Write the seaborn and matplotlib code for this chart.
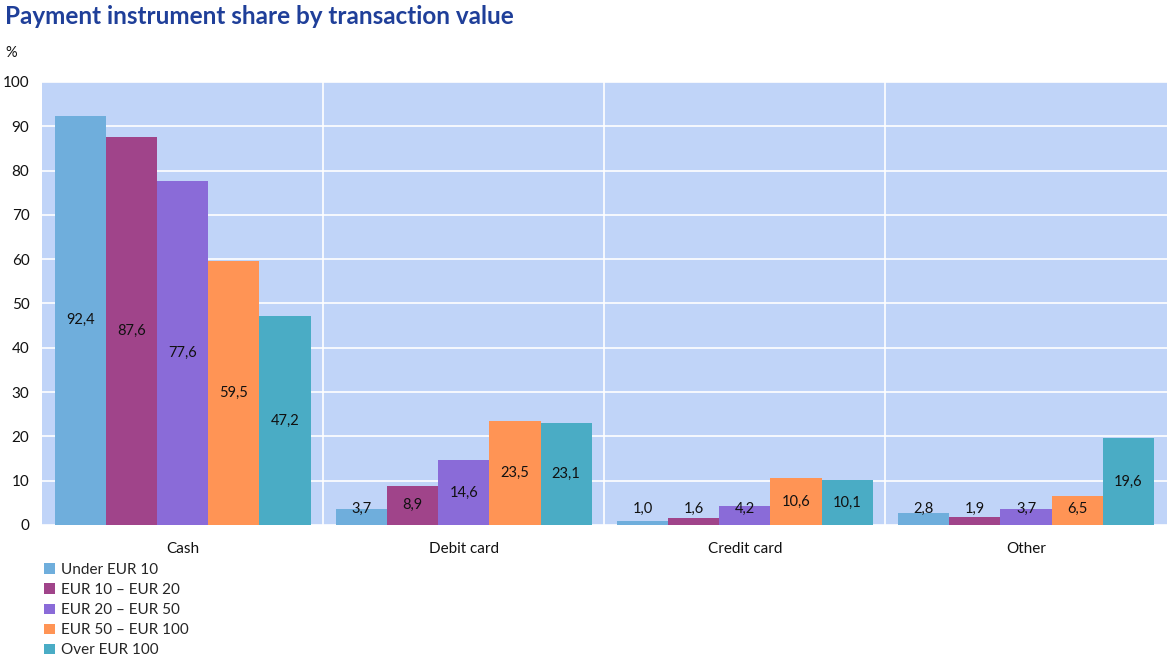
import matplotlib
matplotlib.use("Agg")
import matplotlib.pyplot as plt
import seaborn as sns
import pandas as pd
from matplotlib.patches import Patch

categories = ["Cash", "Debit card", "Credit card", "Other"]
series = ["Under EUR 10", "EUR 10 – EUR 20", "EUR 20 – EUR 50", "EUR 50 – EUR 100", "Over EUR 100"]
under_10 = [92.4, 3.7, 1.0, 2.8]
eur_10_20 = [87.6, 8.9, 1.6, 1.9]
eur_20_50 = [77.6, 14.6, 4.2, 3.7]
eur_50_100 = [59.5, 23.5, 10.6, 6.5]
over_100 = [47.2, 23.1, 10.1, 19.6]
colors = ["#6FAEDC", "#A0448A", "#8A6BD8", "#FF9455", "#4AACC5"]

values = [under_10, eur_10_20, eur_20_50, eur_50_100, over_100]
rows = []
for s, vals in zip(series, values):
    for c, v in zip(categories, vals):
        rows.append({"category": c, "series": s, "value": v})
df = pd.DataFrame(rows)

sns.set_theme(style="white")
plt.rcParams['font.family'] = ['Lato', 'DejaVu Sans']

fig = plt.figure(figsize=(11.69, 6.6), dpi=100)
ax = fig.add_axes([42/1169, (660-525)/660, (1169-42)/1169 - 0.002, (525-82)/660])
ax.set_facecolor("#C0D4F8")

sns.barplot(data=df, x="category", y="value", hue="series", order=categories,
            hue_order=series, palette=colors, width=0.91, gap=0, ax=ax,
            saturation=1, legend=False, edgecolor="none")

ax.set_ylim(0, 100)
ax.set_xlim(-0.5, 3.5)
ax.set_yticks(range(0, 101, 10))
ax.yaxis.grid(True, color="white", linewidth=1.2)
ax.set_axisbelow(True)
for xv in [0.5, 1.5, 2.5]:
    ax.axvline(xv, color="white", linewidth=1.2, zorder=0.5)
for sp in ax.spines.values():
    sp.set_visible(False)
ax.tick_params(axis="both", length=0, labelsize=11, colors="#111111")
ax.tick_params(axis="y", pad=9)
ax.tick_params(axis="x", pad=12)
ax.set_xlabel("")
ax.set_ylabel("")

for cont in ax.containers:
    for bar in cont:
        h = bar.get_height()
        x = bar.get_x() + bar.get_width() / 2
        y = max(h / 2, 3.6)
        ax.text(x, y, f"{h:.1f}".replace(".", ","), ha="center", va="center",
                fontsize=10.5, color="#111111")

fig.text(5/1169, 1 - 16/660, "Payment instrument share by transaction value",
         fontsize=17.5, fontweight="bold", color="#1F3F99", ha="left", va="center")
fig.text(5/1169, 1 - 53/660, "%", fontsize=10.5, color="#111111", ha="left", va="center")

handles = [Patch(facecolor=c, edgecolor="none") for c in colors]
leg = fig.legend(handles, series, loc="upper left", bbox_to_anchor=(44/1169, 1 - 563/660),
                 frameon=False, fontsize=11, handlelength=0.7, handleheight=0.7,
                 handletextpad=0.4, labelspacing=0.4, borderaxespad=0, borderpad=0)

fig.savefig("out.png", dpi=100)
